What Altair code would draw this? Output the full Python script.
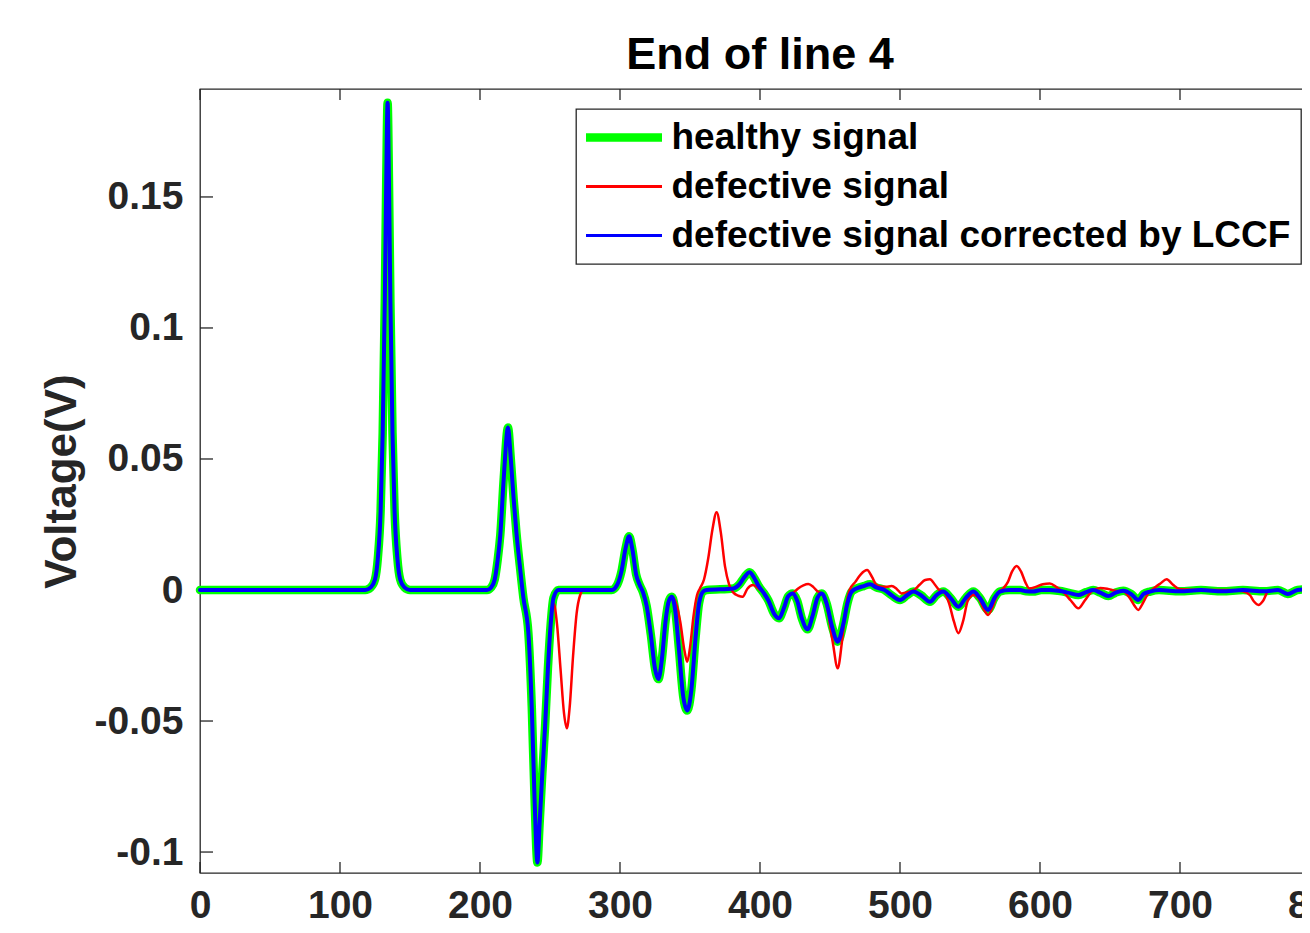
import json
import altair as alt
import pandas as pd

# ---------------- data ----------------
healthy_x = [0, 118, 122, 125, 127, 129, 130.5, 132, 133, 134, 135, 136, 137.5, 139, 141, 143, 146, 150,
             205, 208, 210.5, 212.5, 214.5, 217, 220, 222, 224, 226, 228.5, 231, 234.5, 237, 239, 241,
             242.5, 244.5, 246.5, 248.5, 250.5, 252.5, 256, 294, 298, 301, 304, 306.5, 309, 311.5, 314,
             316.5, 319, 322, 325, 327.4, 330, 332.5, 335, 337, 339.5, 342, 345, 348, 351, 354, 356.5,
             359.5, 362, 381, 385, 389, 392.5, 396, 399, 402.5, 406, 410, 413.6, 417, 420, 423.3, 426.5,
             430, 434, 437.5, 441, 444, 447.5, 451.5, 455.5, 459.5, 462.5, 465.5, 470, 474, 478.6, 483,
             489, 494, 500, 505, 509.5, 515, 521.4, 526, 531, 536, 541.7, 547, 552.4, 557, 563, 567.5,
             571.4, 578, 586, 590, 595, 601, 607, 613, 620, 627.4, 633, 638, 643, 648.8, 654, 659.5, 665,
             670.2, 674, 678.6, 685, 700, 715, 730, 745, 760, 770, 777, 784, 790, 800]
healthy_y = [0, 0, 0.001, 0.004, 0.012, 0.03, 0.06, 0.11, 0.155, 0.186, 0.155, 0.11, 0.06, 0.03, 0.012, 0.004, 0.001, 0,
             0, 0.001, 0.004, 0.011, 0.021, 0.043, 0.062, 0.05, 0.035, 0.022, 0.009, -0.003, -0.016, -0.045, -0.08, -0.104,
             -0.09, -0.07, -0.052, -0.03, -0.013, -0.003, 0, 0, 0.002, 0.007, 0.016, 0.0205, 0.015, 0.006, 0.002,
             -0.001, -0.006, -0.017, -0.03, -0.034, -0.026, -0.012, -0.004, -0.0026, -0.008, -0.022, -0.04, -0.046, -0.038, -0.018, -0.005,
             -0.0005, 0, 0.0006, 0.002, 0.005, 0.0068, 0.0045, 0.0015, -0.001, -0.004, -0.009, -0.0108, -0.007, -0.0025, -0.0013, -0.004,
             -0.011, -0.015, -0.01, -0.003, -0.0013, -0.005, -0.014, -0.0197, -0.013, -0.005, -0.0006, 0.0008, 0.0015, 0.0022, 0.001,
             0, -0.002, -0.0038, -0.002, -0.0006, -0.002, -0.0045, -0.002, -0.0006, -0.003, -0.0064, -0.003, -0.0006, -0.003, -0.0076, -0.003,
             -0.0006, 0, 0, -0.0005, -0.0006, 0, 0, -0.0003, -0.001, -0.0019, -0.0008, 0, -0.001, -0.0023, -0.001, -0.0003, -0.0015,
             -0.0038, -0.0015, -0.0006, 0, -0.0005, 0, -0.0005, 0, -0.0005, 0, -0.0015, 0, 0.0002, 0]

defective_x = [0, 118, 122, 125, 127, 129, 130.5, 132, 133, 134, 135, 136, 137.5, 139, 141, 143, 146, 150,
               205, 208, 210.5, 212.5, 214.5, 217, 220, 222, 224, 226, 228.5, 231, 234.5, 237, 239, 241,
               242.5, 244.5, 246.5, 248.5, 250.5, 252.5, 255, 257.5, 260, 262, 264, 266.5, 269, 271.5, 274,
               294, 298, 301, 304, 306.5, 309, 311.5, 314, 316.5, 319, 322, 325, 327.4, 330, 332.5, 335, 337,
               340, 343, 346, 348, 350, 352.5, 355, 357, 360, 363, 366, 369, 372, 375, 378, 381, 384.5, 387.6,
               391, 395, 399, 402.5, 406, 410, 413.6, 417, 420, 423.3, 427, 431, 434.5, 438, 441, 444, 448, 452,
               455.5, 458.5, 461.5, 464, 468, 472, 476.5, 480, 483, 486, 490, 494, 497.5, 501, 505, 510, 514,
               518, 521.4, 525, 528, 531, 535, 538.5, 541.7, 545, 548.5, 552.4, 556, 559.5, 563, 566.5, 570,
               573.8, 577, 580, 583.3, 586.5, 589.5, 592.4, 597, 602, 607, 612, 617, 622, 627.4, 632, 637, 643,
               648, 654, 659.5, 664, 667.5, 670.2, 673.5, 677, 681, 686, 690.5, 695, 700, 720, 735, 745, 750,
               753, 756, 759.5, 763, 770, 777, 784, 800]
defective_y = [0, 0, 0.001, 0.004, 0.012, 0.03, 0.06, 0.11, 0.155, 0.186, 0.155, 0.11, 0.06, 0.03, 0.012, 0.004, 0.001, 0,
               0, 0.001, 0.004, 0.011, 0.021, 0.043, 0.062, 0.05, 0.035, 0.022, 0.009, -0.003, -0.016, -0.045, -0.08, -0.104,
               -0.09, -0.07, -0.052, -0.03, -0.013, -0.005, -0.013, -0.03, -0.047, -0.0528, -0.045, -0.025, -0.009, -0.002, 0,
               0, 0.002, 0.007, 0.016, 0.0205, 0.015, 0.006, 0.002, -0.001, -0.006, -0.017, -0.03, -0.034, -0.026, -0.012, -0.004, -0.0026,
               -0.005, -0.012, -0.023, -0.0274, -0.022, -0.01, -0.002, 0.0005, 0.004, 0.012, 0.023, 0.0297, 0.022, 0.009, 0.002, -0.001, -0.0022, -0.0026,
               0.0005, 0.0019, 0.0005, -0.001, -0.004, -0.009, -0.0108, -0.007, -0.0025, -0.0013, 0.0005, 0.0018, 0.0023, 0.0012, -0.0005, -0.0013, -0.007, -0.02,
               -0.0299, -0.02, -0.006, 0, 0.003, 0.006, 0.0076, 0.005, 0.002, 0.0013, 0.0012, 0.0015, 0.0005, -0.0013, -0.0008, 0, 0.002,
               0.0038, 0.0041, 0.002, 0, -0.0006, -0.005, -0.012, -0.0165, -0.012, -0.004, -0.0019, -0.003, -0.007, -0.0095, -0.006, -0.001,
               0.0006, 0.003, 0.007, 0.0092, 0.007, 0.003, 0.0006, 0.0012, 0.0022, 0.0025, 0.001, -0.001, -0.004, -0.007, -0.004, -0.0005, 0.0008,
               0.0005, -0.0003, -0.0005, -0.003, -0.006, -0.0076, -0.005, -0.0015, 0.0005, 0.0025, 0.0041, 0.002, 0.0003, 0, 0, -0.0005, -0.002,
               -0.0045, -0.0057, -0.004, -0.0005, 0, -0.0015, 0, 0]

# the LCCF-corrected signal lies on top of the healthy one
corrected_x = list(healthy_x)
corrected_y = list(healthy_y)

series_names = ["healthy signal", "defective signal", "defective signal corrected by LCCF"]
series_colors = ["#00ff00", "#ff0000", "#0000ff"]
series_widths = [8.5, 2.5, 4]

x_ticks = [0, 100, 200, 300, 400, 500, 600, 700, 800]
y_ticks = [-0.1, -0.05, 0, 0.05, 0.1, 0.15]
x_domain = [0, 800]
y_domain = [-0.108, 0.1912]

# ---------------- chart ----------------
W, H = 1120, 784
FONT = "Liberation Sans"
AX = "#262626"

xs = alt.Scale(domain=x_domain, nice=False, zero=False)
ys = alt.Scale(domain=y_domain, nice=False, zero=False)

x_axis = alt.Axis(values=x_ticks, title=None, labelPadding=13, labelBaseline="top",
                  labelFlush=False, labelExpr="'' + datum.value")
y_axis = alt.Axis(values=y_ticks, title="Voltage(V)", labelPadding=17, labelBaseline="middle",
                  labelExpr="'' + datum.value",
                  titleX=-125, titleY=H / 2, titleAngle=270, titleAlign="center",
                  titleBaseline="alphabetic", titleFontSize=44, titleFontWeight="bold",
                  titleFont=FONT, titleColor=AX)

# legend symbol: the healthy entry is drawn as a thick stroke (three parallel strokes)
thin_path = "M-4,0L4,0"
thick_path = "M-4,-0.3L4,-0.3M-4,0L4,0M-4,0.3L4,0.3"
shape_expr = "datum.value == {} ? '{}' : '{}'".format(json.dumps(series_names[0]), thick_path, thin_path)

color_enc = alt.Color(
    "series:N",
    scale=alt.Scale(domain=series_names, range=series_colors),
    legend=alt.Legend(
        title=None, orient="none", legendX=376, legendY=20,
        symbolType=alt.ExprRef(expr=shape_expr), symbolSize=361, symbolOffset=19.5,
        symbolStrokeWidth=3,
        labelOffset=29, labelFontSize=37, labelFont=FONT, labelFontWeight="bold",
        labelColor="black", labelLimit=900, rowPadding=11, padding=10,
        fillColor="white", strokeColor=AX,
    ),
)


def series_layer(name, xv, yv, w):
    df = pd.DataFrame({"x": xv, "y": yv, "series": name})
    return alt.Chart(df).mark_line(
        interpolate="monotone", strokeWidth=w, strokeCap="round", strokeJoin="round"
    ).encode(
        x=alt.X("x:Q", scale=xs, axis=x_axis),
        y=alt.Y("y:Q", scale=ys, axis=y_axis),
        color=color_enc,
    )


xt_df = pd.DataFrame({"x": x_ticks})
yt_df = pd.DataFrame({"y": y_ticks})

tick_style = dict(color=AX, strokeWidth=1.3)
bottom_ticks = alt.Chart(xt_df).mark_rule(**tick_style).encode(
    x=alt.X("x:Q", scale=xs, axis=x_axis), y=alt.value(H), y2=alt.value(H - 11))
top_ticks = alt.Chart(xt_df).mark_rule(**tick_style).encode(
    x=alt.X("x:Q", scale=xs, axis=x_axis), y=alt.value(0), y2=alt.value(11))
left_ticks = alt.Chart(yt_df).mark_rule(**tick_style).encode(
    y=alt.Y("y:Q", scale=ys, axis=y_axis), x=alt.value(0), x2=alt.value(13))
right_ticks = alt.Chart(yt_df).mark_rule(**tick_style).encode(
    y=alt.Y("y:Q", scale=ys, axis=y_axis), x=alt.value(W), x2=alt.value(W - 13))

chart = alt.layer(
    bottom_ticks, top_ticks, left_ticks, right_ticks,
    series_layer(series_names[0], healthy_x, healthy_y, series_widths[0]),
    series_layer(series_names[1], defective_x, defective_y, series_widths[1]),
    series_layer(series_names[2], corrected_x, corrected_y, series_widths[2]),
).properties(
    width=W, height=H,
    title=alt.TitleParams("End of line 4", fontSize=45, fontWeight="bold", font=FONT,
                          color="black", offset=-26, baseline="alphabetic", anchor="middle"),
    autosize=alt.AutoSizeParams(type="none"),
    padding={"left": 192, "top": 81, "right": -18, "bottom": 52},
).configure_view(
    stroke=AX, strokeWidth=1.3
).configure_axis(
    domain=False, ticks=False, grid=False,
    labelFont=FONT, labelFontWeight="bold", labelFontSize=39, labelColor=AX,
).configure_legend(
    strokeWidth=1.3
)

chart.save("out.html", embed_options={"renderer": "svg", "actions": False})
